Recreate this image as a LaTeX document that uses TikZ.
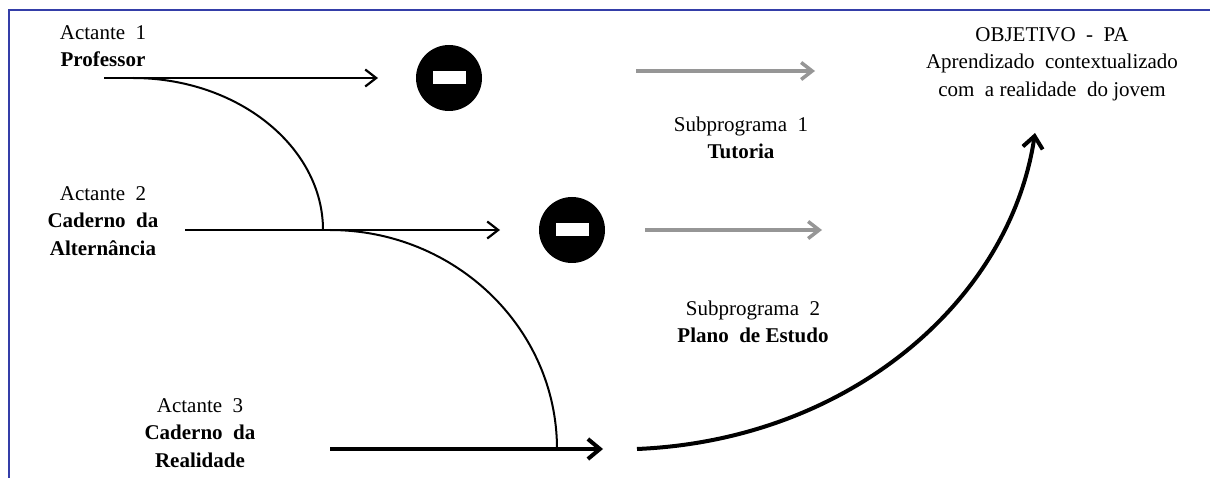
\documentclass[tikz,border=0pt]{standalone}
\usepackage{fontspec}
\setmainfont{Liberation Serif}
\usetikzlibrary{arrows.meta}
\definecolor{framecol}{RGB}{52,62,168}
\definecolor{arrowgray}{RGB}{150,150,150}
\tikzset{
    lbl/.style={align=center,inner sep=0pt,font=\fontsize{21}{27.5}\selectfont},
    stopsign/.style={circle,fill=black,minimum size=66pt,inner sep=0pt,
        path picture={\fill[white] ([shift={(-16.5pt,-6.5pt)}]path picture bounding box.center)
            rectangle ([shift={(16.5pt,6.5pt)}]path picture bounding box.center);}},
    tip/.style={-{Straight Barb[length=11pt,width=17pt]}},
    thin arrow/.style={tip,line width=2.2pt},
    gray arrow/.style={tip,line width=3.5pt,draw=arrowgray},
    thick arrow/.style={-{Straight Barb[length=12pt,width=20pt]},line width=4pt}
}
\begin{document}
\begin{tikzpicture}[x=1pt,y=-1pt]
    \useasboundingbox (0,0) rectangle (1210,478);
    \draw[framecol,line width=1.3pt] (1210,10)--(9,10)--(9,478);

    \node[lbl] (act1) at (103,46) {Actante~~1\\\textbf{Professor}};
    \node[lbl] (act2) at (103,221) {Actante~~2\\\textbf{Caderno~~da}\\\textbf{Alternância}};
    \node[lbl] (act3) at (200,433) {Actante~~3\\\textbf{Caderno~~da}\\\textbf{Realidade}};
    \node[lbl] (sub1) at (741,138) {Subprograma~~1\\\textbf{Tutoria}};
    \node[lbl] (sub2) at (753,322) {Subprograma~~2\\\textbf{Plano~~de Estudo}};
    \node[lbl] (obj) at (1052,64) {OBJETIVO~~-~~PA\\Aprendizado~~contextualizado\\com~~a realidade~~do jovem};
    \node[stopsign] (stopA) at (449,78) {};
    \node[stopsign] (stopB) at (572,230) {};

    \coordinate (p1) at (104,78);   \coordinate (q1) at (378,78);
    \coordinate (p2) at (185,230);  \coordinate (q2) at (500,230);
    \coordinate (p3) at (330,449);  \coordinate (q3) at (603,449);
    \coordinate (g1) at (636,71);   \coordinate (h1) at (815,71);
    \coordinate (g2) at (645,230);  \coordinate (h2) at (822,230);
    \coordinate (k1) at (133,78);   \coordinate (m1) at (323,230);
    \coordinate (k2) at (330,230);  \coordinate (m2) at (557,449);
    \coordinate (r) at (637,449);   \coordinate (s) at (1035,133);

    \draw[thin arrow] (p1)--(q1);
    \draw[thin arrow] (p2)--(q2);
    \draw[thick arrow] (p3)--(q3);
    \draw[gray arrow] (g1)--(h1);
    \draw[gray arrow] (g2)--(h2);
    \draw[line width=2pt] (k1) .. controls (238,78) and (323,147) .. (m1);
    \draw[line width=2pt] (k2) .. controls (455,230) and (557,328) .. (m2);
    \draw[thick arrow] (r) .. controls (850,440) and (1010,300) .. (s);
\end{tikzpicture}
\end{document}
